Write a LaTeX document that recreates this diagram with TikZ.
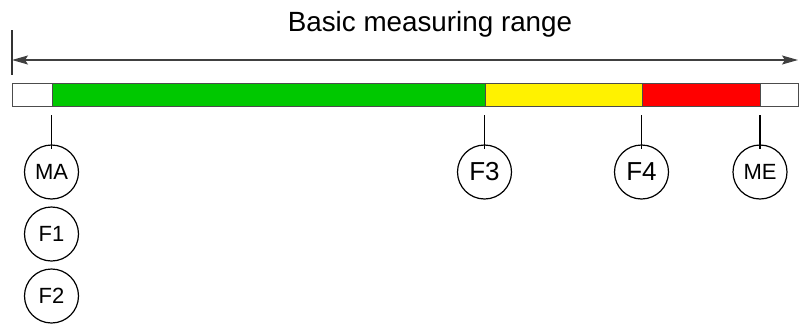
\documentclass[tikz,border=0pt]{standalone}
\usepackage{fontspec}
\setmainfont{Liberation Sans}
\usepackage{tikz}
\usetikzlibrary{shapes}
\usetikzlibrary{arrows.meta}
\usetikzlibrary{positioning}

\definecolor{okgreen}{RGB}{0,200,0}

\begin{document}
\begin{tikzpicture}[x=1pt,y=-1pt,
  seg/.style 2 args={
    rectangle,
    draw=gray!60!black,
    line width=1pt,
    fill=#2,
    minimum width=#1,
    minimum height=23pt,
    inner sep=0pt,
    anchor=west},
  lim/.style={
    circle,
    draw,
    line width=1.2pt,
    minimum size=54pt,
    inner sep=0pt,
    font=\fontsize{22}{26}\selectfont},
  big/.style={font=\fontsize{26}{30}\selectfont}]
  \useasboundingbox (0,0) rectangle (799,324);
  % draw the bar segments
  \node[seg={39.5pt}{white}] (s1) at (12,95) {};
  \node[seg={433pt}{okgreen}] (s2) at (51.5,95) {};
  \node[seg={157pt}{yellow}] (s3) at (484.5,95) {};
  \node[seg={118.5pt}{red}] (s4) at (641.5,95) {};
  \node[seg={37.5pt}{white}] (s5) at (760,95) {};
  % draw the range arrow
  \coordinate (top) at (12,30);
  \coordinate (bot) at (12,75);
  \coordinate (left) at (12,60);
  \coordinate (right) at (798,60);
  \draw[black!80, line width=1.2pt] (top) -- (bot);
  \draw[black!75, line width=1.2pt,
    {Stealth[length=16pt,width=9pt,inset=3pt]}-{Stealth[length=16pt,width=9pt,inset=3pt]}]
    (left) -- (right);
  \node[anchor=base, font=\fontsize{27.8}{32}\selectfont] (title) at (430,31) {Basic measuring range};
  % draw limit circles
  \node[lim] (MA) at (51.5,172) {MA};
  \node[lim] (F1) at (51.5,234) {F1};
  \node[lim] (F2) at (51.5,296) {F2};
  \node[lim,big] (F3) at (484.5,172) {F3};
  \node[lim,big] (F4) at (641.5,172) {F4};
  \node[lim] (ME) at (760,172) {ME};
  % draw ticks between bar and circles
  \foreach \c/\x in {MA/51.5,F3/484.5,F4/641.5,ME/760} {
    \coordinate (t\c) at (\x,115);
    \draw[line width=1.2pt] (t\c) -- ([yshift=-5pt]\c.north);
  }
\end{tikzpicture}
\end{document}
